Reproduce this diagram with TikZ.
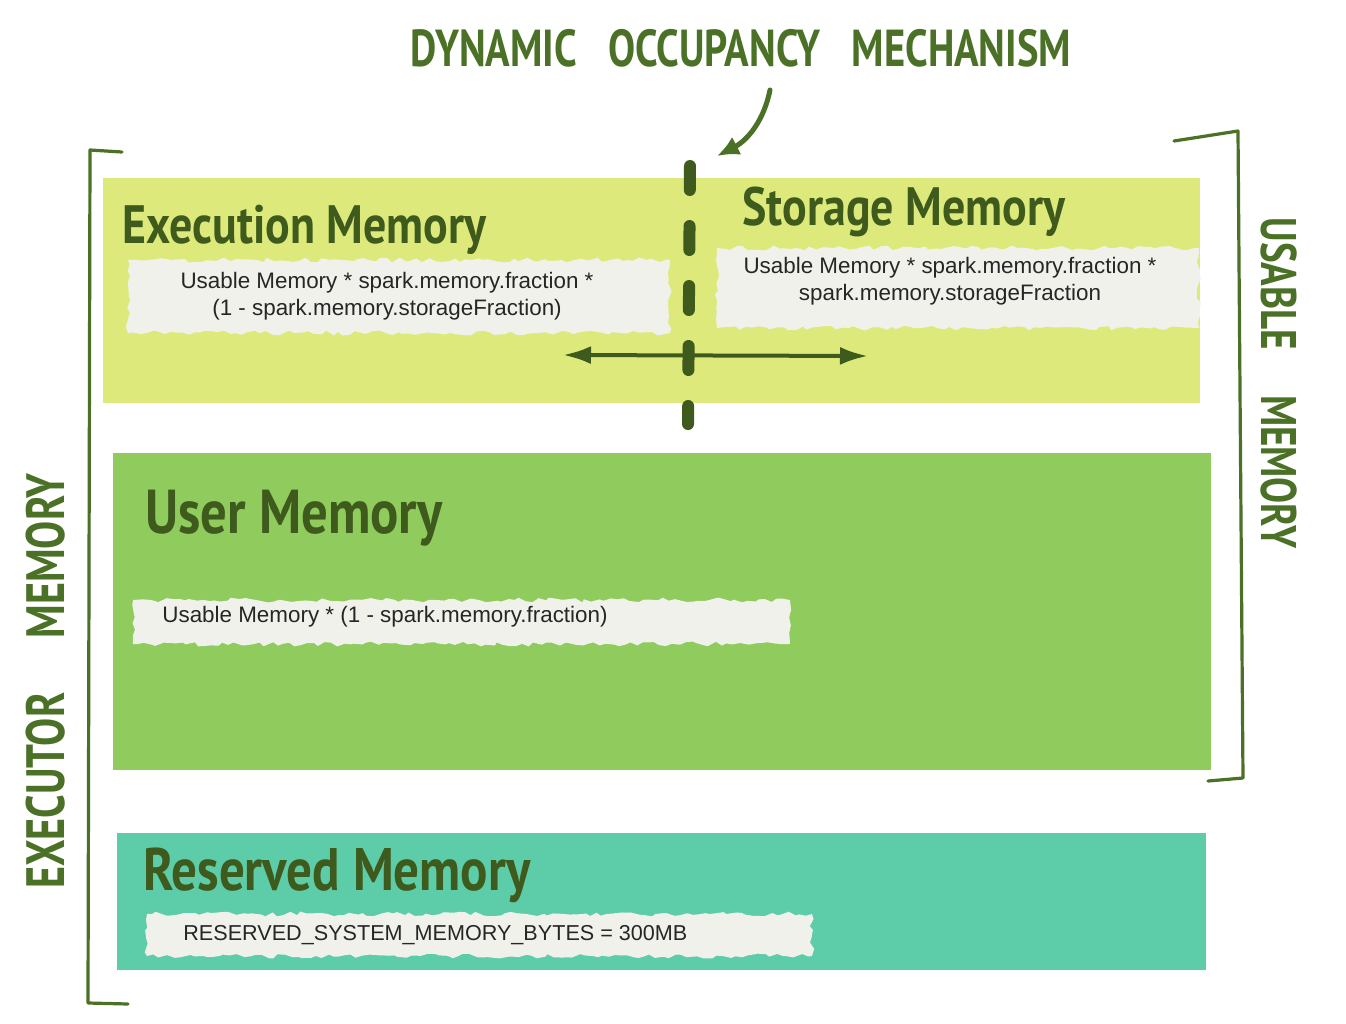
\documentclass[tikz,border=0pt]{standalone}
\usepackage{fontspec}
\setmainfont{Liberation Sans}
\newfontfamily\hand[FakeStretch=0.78]{PT Sans}
\newfontfamily\handw[FakeStretch=0.85]{PT Sans}
\usetikzlibrary{arrows.meta,fit,decorations.pathmorphing}
\definecolor{execc}{HTML}{DDEA7B}
\definecolor{userc}{HTML}{8FCB5D}
\definecolor{resc}{HTML}{5DCCA8}
\definecolor{ink}{HTML}{3E5A1D}
\definecolor{inkb}{HTML}{4B7127}
\definecolor{stripc}{HTML}{F1F1EC}
\definecolor{formc}{HTML}{262626}
\begin{document}
\begin{tikzpicture}[x=0.5pt,y=-0.5pt,
  panel/.style={inner sep=0pt,outer sep=0pt},
  brush/.style={fill=stripc,inner sep=0pt,outer sep=0pt,decorate,
    decoration={random steps,segment length=3pt,amplitude=1.2pt}},
  formula/.style={font=\fontsize{11.2}{13.5}\selectfont,text=formc,align=center,inner sep=0pt},
  head/.style={font=\handw\bfseries\fontsize{27}{30}\selectfont,text=ink,inner sep=0pt,anchor=base west},
  capslab/.style={font=\hand\bfseries\fontsize{25}{28}\selectfont,text=inkb,inner sep=0pt},
  bracket/.style={draw=inkb,line width=1.6pt,line join=round,line cap=round},
  divider/.style={draw=ink,line width=6pt,line cap=round,dash pattern=on 12pt off 18pt},
  harrow/.style={draw=ink,line width=2pt,{Latex[length=14pt,width=9pt]}-{Latex[length=14pt,width=9pt]}},
  carrow/.style={draw=inkb,line width=2.5pt,line cap=round,-{Latex[length=11pt,width=10pt]}}]
\useasboundingbox[fill=white] (0,0) rectangle (1346,1024);
\pgfmathsetseed{7}
% panels
\node[panel,fill=execc,fit={(103,178) (1200,403)}] (exec) {};
\node[panel,fill=userc,fit={(113,453) (1211,770)}] (user) {};
\node[panel,fill=resc,fit={(117,833) (1206,970)}] (res) {};
% brush strips
\node[brush,fit={(128,260) (670,333)}] (s1) {};
\node[brush,fit={(717,248) (1199,328)}] (s2) {};
\node[brush,fit={(133,600) (790,644)}] (s3) {};
\node[brush,fit={(147,914) (812,956)}] (s4) {};
% formulas
\node[formula] (f1) at (387,296) {Usable Memory * spark.memory.fraction *\\(1 - spark.memory.storageFraction)};
\node[formula] (f2) at (950,281) {Usable Memory * spark.memory.fraction *\\spark.memory.storageFraction};
\node[formula,anchor=west] (f3) at (162,617) {Usable Memory * (1 - spark.memory.fraction)};
\node[formula,anchor=west,font=\fontsize{10.8}{13}\selectfont] (f4) at (183,935) {RESERVED\_SYSTEM\_MEMORY\_BYTES = 300MB};
% headings
\node[head] (h1) at (122,243) {Execution Memory};
\node[head] (h2) at (742,225) {Storage Memory};
\node[head,font=\handw\bfseries\fontsize{31}{33}\selectfont] (h3) at (145,533) {User Memory};
\node[head,font=\handw\bfseries\fontsize{30}{32}\selectfont] (h4) at (143,890) {Reserved Memory};
% title
\node[capslab,font=\hand\bfseries\fontsize{26}{28}\selectfont] (title) at (741,48) {DYNAMIC\hspace{0.6em}OCCUPANCY\hspace{0.6em}MECHANISM};
% side labels
\node[capslab,rotate=90,font=\hand\bfseries\fontsize{27}{29}\selectfont] (exlab) at (46,681) {EXECUTOR\hspace{1em}MEMORY};
\node[capslab,rotate=-90] (uslab) at (1279,383) {USABLE\hspace{0.9em}MEMORY};
% brackets
\coordinate (lb1) at (122,152); \coordinate (lb2) at (90,150);
\coordinate (lb3) at (88,1003); \coordinate (lb4) at (128,1004);
\draw[bracket] (lb1) -- (lb2) -- (lb3) -- (lb4);
\coordinate (rb1) at (1174,141); \coordinate (rb2) at (1238,131);
\coordinate (rb3) at (1243,778); \coordinate (rb4) at (1208,781);
\draw[bracket] (rb1) -- (rb2) -- (rb3) -- (rb4);
% divider and arrows
\coordinate (dv1) at (690,166); \coordinate (dv2) at (688,424);
\draw[divider] (dv1) -- (dv2);
\coordinate (hl) at (563,355); \coordinate (hr) at (868,356);
\draw[harrow] (hl) -- (hr);
\coordinate (ca1) at (770,90); \coordinate (ca2) at (717,156);
\draw[carrow] (ca1) .. controls (764,120) and (748,140) .. (ca2);
\end{tikzpicture}
\end{document}
